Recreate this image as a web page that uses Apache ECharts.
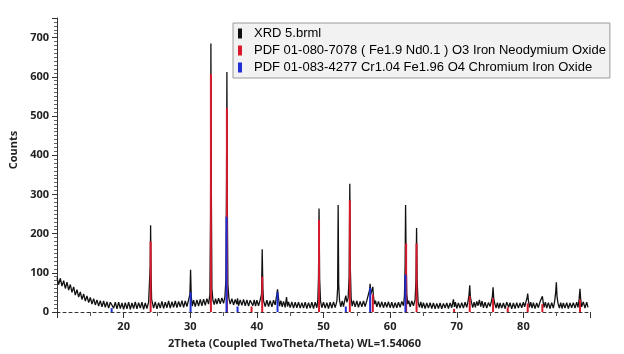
<!DOCTYPE html>
<html>
<head>
<meta charset="utf-8">
<script src="https://cdn.jsdelivr.net/npm/echarts/dist/echarts.min.js"></script>
<style>
html, body { margin: 0; padding: 0; background: #fff; }
#show_picture { width: 624px; height: 354px; }
</style>
</head>
<body>
<div id="show_picture"></div>
<script>
const xrdName = 'XRD 5.brml';
const feNdName = 'PDF 01-080-7078 ( Fe1.9 Nd0.1 ) O3 Iron Neodymium Oxide';
const crFeName = 'PDF 01-083-4277 Cr1.04 Fe1.96 O4 Chromium Iron Oxide';

// measured pattern, [2theta, counts]
const xrdPoints = [
    [10.0, 88], [10.25, 70], [10.5, 86], [10.75, 66], [11.0, 80], [11.25, 60], [11.5, 76], [11.75, 56],
    [12.0, 70], [12.25, 50], [12.5, 64], [12.75, 43], [13.0, 57], [13.25, 38], [13.5, 51], [13.75, 32],
    [14.0, 46], [14.25, 28], [14.5, 41], [14.75, 24], [15.0, 37], [15.25, 20], [15.5, 34], [15.75, 18],
    [16.0, 31], [16.25, 15], [16.5, 29], [16.75, 13], [17.0, 28], [17.25, 12], [17.5, 26], [17.75, 10],
    [18.0, 25], [18.25, 30], [18.5, 10], [18.75, 25], [19.0, 8], [19.25, 25], [19.5, 9], [19.75, 23],
    [20.0, 7], [20.25, 24], [20.5, 8], [20.75, 25], [21.0, 7], [21.25, 23], [21.5, 9], [21.75, 26],
    [22.0, 8], [22.25, 24], [22.5, 10], [22.75, 25], [23.0, 7], [23.25, 23], [23.5, 9], [23.75, 25],
    [23.9, 30], [24.0, 120], [24.05, 221], [24.12, 95], [24.2, 32], [24.5, 10], [24.75, 26],
    [25.0, 8], [25.25, 24], [25.5, 10], [25.75, 27], [26.0, 9], [26.25, 25], [26.5, 11], [26.75, 28],
    [27.0, 10], [27.25, 26], [27.5, 12], [27.75, 28], [28.0, 11], [28.25, 27], [28.5, 13], [28.75, 29],
    [29.0, 12], [29.25, 28], [29.5, 14], [29.75, 31], [29.95, 45], [30.05, 108], [30.15, 40], [30.3, 15],
    [30.5, 30], [30.75, 14], [31.0, 31], [31.25, 15], [31.5, 32], [31.75, 16], [32.0, 33], [32.25, 17],
    [32.5, 34], [32.75, 20], [32.95, 45], [33.05, 250], [33.1, 685], [33.17, 300], [33.25, 60], [33.4, 30],
    [33.6, 19], [33.8, 34], [34.0, 20], [34.25, 35], [34.5, 21], [34.75, 36], [35.0, 22], [35.2, 38],
    [35.35, 80], [35.45, 350], [35.5, 612], [35.57, 260], [35.65, 70], [35.8, 35], [36.0, 20], [36.25, 34],
    [36.5, 18], [36.75, 32], [37.0, 20], [37.1, 35], [37.25, 16], [37.5, 31], [37.75, 17], [38.0, 32],
    [38.25, 16], [38.5, 31], [38.75, 15], [39.0, 30], [39.2, 34], [39.4, 16], [39.6, 31], [39.8, 15],
    [40.0, 30], [40.25, 16], [40.5, 31], [40.7, 45], [40.8, 160], [40.9, 60], [41.0, 29], [41.25, 14],
    [41.5, 30], [41.75, 14], [42.0, 29], [42.25, 13], [42.5, 30], [42.75, 18], [42.95, 40], [43.1, 58],
    [43.25, 35], [43.4, 15], [43.6, 29], [43.8, 13], [44.0, 27], [44.25, 12], [44.45, 38], [44.6, 14],
    [44.75, 26], [45.0, 11], [45.25, 26], [45.5, 10], [45.75, 25], [46.0, 11], [46.25, 25], [46.5, 10],
    [46.75, 24], [47.0, 10], [47.25, 25], [47.5, 9], [47.75, 24], [48.0, 10], [48.25, 25], [48.5, 9],
    [48.75, 25], [49.0, 11], [49.15, 30], [49.25, 90], [49.33, 264], [49.42, 85], [49.55, 28], [49.75, 11],
    [50.0, 25], [50.25, 10], [50.5, 24], [50.75, 9], [51.0, 25], [51.25, 10], [51.5, 26], [51.75, 11],
    [52.0, 27], [52.12, 60], [52.2, 273], [52.28, 70], [52.4, 30], [52.6, 13], [52.8, 28], [53.0, 14],
    [53.2, 31], [53.35, 42], [53.5, 25], [53.7, 36], [53.85, 90], [53.95, 327], [54.03, 110], [54.15, 35],
    [54.3, 15], [54.5, 29], [54.75, 13], [55.0, 28], [55.25, 12], [55.5, 27], [55.75, 13], [56.0, 28],
    [56.25, 14], [56.5, 29], [56.75, 25], [56.9, 55], [57.0, 72], [57.1, 45], [57.25, 40], [57.4, 64],
    [57.5, 40], [57.65, 20], [57.8, 29], [58.0, 13], [58.25, 27], [58.5, 12], [58.75, 26], [59.0, 11],
    [59.25, 25], [59.5, 12], [59.75, 26], [60.0, 11], [60.25, 25], [60.5, 10], [60.75, 24], [61.0, 11],
    [61.25, 25], [61.5, 12], [61.75, 27], [62.0, 16], [62.15, 40], [62.25, 120], [62.32, 273], [62.4, 140],
    [62.5, 45], [62.65, 20], [62.8, 29], [63.0, 13], [63.25, 28], [63.5, 16], [63.75, 31], [63.88, 80],
    [63.97, 214], [64.05, 80], [64.2, 25], [64.4, 12], [64.6, 26], [64.8, 10], [65.0, 24], [65.25, 9],
    [65.5, 23], [65.75, 10], [66.0, 24], [66.25, 9], [66.5, 23], [66.75, 8], [67.0, 22], [67.25, 9],
    [67.5, 23], [67.75, 8], [68.0, 22], [68.25, 10], [68.5, 23], [68.75, 9], [69.0, 23], [69.25, 11],
    [69.5, 32], [69.65, 13], [69.8, 25], [70.0, 9], [70.25, 23], [70.5, 10], [70.75, 24], [71.0, 10],
    [71.25, 25], [71.5, 12], [71.7, 28], [71.85, 45], [71.95, 68], [72.05, 38], [72.2, 25], [72.4, 11],
    [72.6, 25], [72.8, 12], [73.0, 27], [73.2, 16], [73.4, 31], [73.6, 14], [73.8, 28], [74.0, 11],
    [74.25, 25], [74.5, 10], [74.75, 24], [75.0, 14], [75.2, 27], [75.35, 40], [75.45, 63], [75.55, 35],
    [75.7, 22], [75.9, 10], [76.1, 24], [76.3, 9], [76.5, 23], [76.75, 10], [77.0, 23], [77.25, 9],
    [77.5, 25], [77.65, 30], [77.8, 12], [78.0, 24], [78.25, 8], [78.5, 23], [78.75, 9], [79.0, 24],
    [79.25, 10], [79.5, 23], [79.75, 11], [80.0, 25], [80.2, 13], [80.4, 27], [80.55, 35], [80.65, 47],
    [80.75, 30], [80.9, 12], [81.1, 25], [81.3, 10], [81.5, 24], [81.75, 9], [82.0, 23], [82.25, 11],
    [82.5, 26], [82.7, 30], [82.85, 40], [82.95, 28], [83.1, 12], [83.3, 25], [83.5, 10], [83.75, 24],
    [84.0, 9], [84.25, 24], [84.5, 10], [84.7, 28], [84.85, 50], [84.95, 76], [85.05, 40], [85.2, 22],
    [85.4, 10], [85.6, 24], [85.8, 9], [86.0, 23], [86.25, 10], [86.5, 24], [86.75, 9], [87.0, 23],
    [87.25, 11], [87.5, 24], [87.75, 10], [88.0, 25], [88.2, 12], [88.35, 30], [88.5, 59], [88.6, 32],
    [88.75, 13], [89.0, 26], [89.25, 10], [89.5, 25], [89.7, 12]
];

// reference sticks, [2theta, height]
const feNdSticks = [
    [24.05, 180], [33.1, 607], [35.5, 520], [39.2, 14], [40.8, 90], [49.33, 235], [53.95, 285],
    [57.4, 45], [62.4, 175], [63.97, 175], [69.6, 8], [71.95, 40], [75.45, 35], [77.65, 12],
    [80.65, 22], [82.85, 20], [88.5, 32]
];
const crFeSticks = [
    [18.2, 10], [30.05, 50], [35.45, 243], [37.1, 14], [43.1, 50], [53.35, 14], [57.0, 62], [62.3, 95]
];

const xTicks = { min: 10, max: 90, step: 10 };
const yTicks = { min: 0, max: 750, step: 100 };

let myChart = echarts.init(document.getElementById('show_picture'));

let labelStyle = {
    color: '#222',
    fontFamily: 'Open Sans',
    fontWeight: 'bold',
    fontSize: 11
};

let option = {
    backgroundColor: '#fff',
    animation: false,
    grid: { left: 57, right: 34, top: 18, bottom: 37 },
    legend: {
        orient: 'vertical',
        left: 233,
        top: 23,
        backgroundColor: '#f2f2f2',
        borderColor: '#9a9a9a',
        borderWidth: 1,
        padding: [4, 4, 4, 5],
        itemWidth: 4,
        itemHeight: 10,
        itemGap: 4,
        textStyle: { color: '#000', fontFamily: 'Liberation Sans', fontSize: 13, padding: [0, 0, 0, 7] },
        data: [
            { name: xrdName, icon: 'rect', itemStyle: { color: '#111' } },
            { name: feNdName, icon: 'rect' },
            { name: crFeName, icon: 'rect' }
        ]
    },
    xAxis: {
        type: 'value',
        min: xTicks.min,
        max: xTicks.max,
        interval: xTicks.step,
        name: '2Theta (Coupled TwoTheta/Theta) WL=1.54060',
        nameLocation: 'middle',
        nameGap: 26,
        nameTextStyle: Object.assign({}, labelStyle, { padding: [0, 58, 0, 0] }),
        splitLine: { show: false },
        axisLine: { lineStyle: { color: '#333', width: 1, type: [3, 3] } },
        axisTick: { length: 6, lineStyle: { color: '#333' } },
        minorTick: { show: true, splitNumber: 2, length: 4, lineStyle: { color: '#555' } },
        axisLabel: Object.assign({}, labelStyle, { margin: 9, showMinLabel: false, showMaxLabel: false })
    },
    yAxis: {
        type: 'value',
        min: yTicks.min,
        max: yTicks.max,
        interval: yTicks.step,
        name: 'Counts',
        nameLocation: 'middle',
        nameGap: 38,
        nameTextStyle: Object.assign({}, labelStyle, { padding: [0, 0, 0, 30] }),
        splitLine: { show: false },
        axisLine: { show: true, lineStyle: { color: '#333', width: 1 } },
        axisTick: { length: 5, lineStyle: { color: '#333' } },
        minorTick: { show: true, splitNumber: 10, length: 3, lineStyle: { color: '#666' } },
        axisLabel: Object.assign({}, labelStyle, { margin: 8, showMaxLabel: false })
    },
    series: [
        {
            name: xrdName,
            type: 'line',
            data: xrdPoints,
            symbol: 'none',
            z: 2,
            lineStyle: { color: '#111', width: 1.3 },
            itemStyle: { color: '#111' }
        },
        {
            name: feNdName,
            type: 'bar',
            data: feNdSticks,
            barWidth: 2,
            barGap: '-100%',
            z: 3,
            itemStyle: { color: '#d8192c' }
        },
        {
            name: crFeName,
            type: 'bar',
            data: crFeSticks,
            barWidth: 2,
            barGap: '-100%',
            z: 4,
            itemStyle: { color: '#1f2fd6' }
        }
    ]
};

option && myChart.setOption(option);
</script>
</body>
</html>
